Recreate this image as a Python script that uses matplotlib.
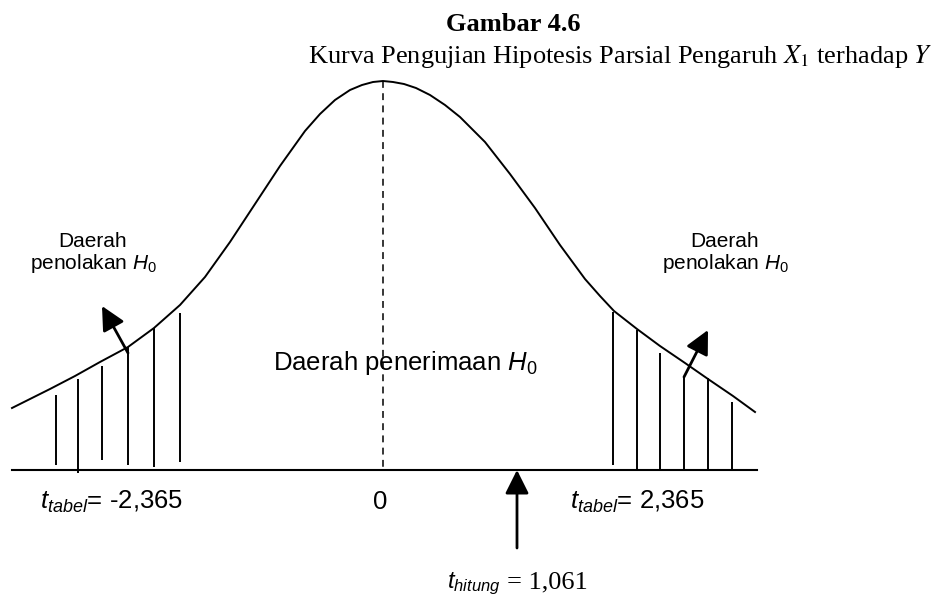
import matplotlib
matplotlib.use("Agg")
import matplotlib.pyplot as plt

plt.rcParams["mathtext.fontset"] = "custom"
plt.rcParams["mathtext.rm"] = "Liberation Sans"
plt.rcParams["mathtext.it"] = "Liberation Sans:italic"

# bell curve (pixel units, y grows downward)
curve_x = [12, 30, 50, 75, 100, 128, 154, 180, 205, 230, 255, 280, 305,
           320, 335, 350, 362, 373, 383, 393, 404, 416, 430, 445, 460, 485,
           510, 535, 560, 585, 600, 614, 637, 660, 685, 708, 733, 755]
curve_y = [408, 399, 389, 376, 362, 347, 328, 305, 277, 242, 204, 166, 131,
           114, 100, 90, 85, 82, 81, 82, 84, 88, 95, 105, 117, 142,
           174, 208, 245, 279, 296, 311, 329, 346, 363, 379, 396, 412]

# hatch lines in the rejection regions
left_x = [56, 78, 102, 128, 154, 180]
left_top = [395, 379, 366, 347, 328, 313]
left_bottom = [465, 473, 460, 465, 467, 462]
right_x = [613, 637, 660, 684, 708, 732]
right_top = [312, 330, 353, 377, 378, 402]
right_bottom = [465, 470, 470, 470, 470, 470]

axis_x = [12, 757]
axis_y = [470, 470]
center_x = 383

title = "Gambar 4.6"
subtitle = "Kurva Pengujian Hipotesis Parsial Pengaruh $X_1$ terhadap $Y$"
reject_label = ["Daerah", "penolakan $H_0$"]
accept_label = "Daerah penerimaan $H_0$"
t_left = "$t_{tabel}$= -2,365"
t_right = "$t_{tabel}$= 2,365"
t_hitung = "$t_{hitung}$"
t_hitung_val = "= 1,061"

fig = plt.figure(figsize=(9.39, 5.96), dpi=100)
ax = fig.add_axes([0, 0, 1, 1])
ax.set_xlim(0, 939)
ax.set_ylim(596, 0)
ax.axis("off")

# curve, axis and centre line
ax.plot(curve_x, curve_y, color="black", lw=1.4, solid_joinstyle="round")
ax.plot(axis_x, axis_y, color="black", lw=1.5)
ax.plot([center_x, center_x], [min(curve_y), axis_y[0]], color="black",
        lw=1.1, linestyle=(0, (4.5, 3.5)))

# hatching
ax.vlines(left_x, left_top, left_bottom, color="black", lw=1.4)
ax.vlines(right_x, right_top, right_bottom, color="black", lw=1.4)

# arrows
arrow = dict(arrowstyle="-|>,head_length=0.8,head_width=0.4",
             mutation_scale=18, color="black", lw=2, shrinkA=0, shrinkB=0)
ax.annotate("", xy=(102, 306), xytext=(128, 353), arrowprops=arrow)
ax.annotate("", xy=(708, 330), xytext=(684, 377), arrowprops=arrow)
ax.annotate("", xy=(517, 470), xytext=(517, 548), arrowprops=arrow)

# titles
serif = "Liberation Serif"
ax.text(513, 31, title, ha="center", va="baseline", fontsize=19,
        fontweight="bold", family=serif)
ax.text(933, 63, subtitle, ha="right", va="baseline", fontsize=19,
        family=serif, math_fontfamily="stix")

# labels
sans = "Liberation Sans"
for cx in (93, 725):
    ax.text(cx, 247, reject_label[0], ha="center", va="baseline",
            fontsize=15, family=sans)
    ax.text(cx, 269, reject_label[1], ha="center", va="baseline",
            fontsize=15, family=sans)
ax.text(405, 370, accept_label, ha="center", va="baseline", fontsize=18.5,
        family=sans)

ax.text(40, 509, t_left, ha="left", va="baseline", fontsize=18.5, family=sans)
ax.text(380, 509, "0", ha="center", va="baseline", fontsize=18.5, family=sans)
ax.text(570, 509, t_right, ha="left", va="baseline", fontsize=18.5,
        family=sans)
ax.text(447, 588, t_hitung, ha="left", va="baseline", fontsize=17,
        family=sans)
ax.text(507, 588, t_hitung_val, ha="left", va="baseline", fontsize=19,
        family=serif)

fig.savefig("out.png", dpi=100)
